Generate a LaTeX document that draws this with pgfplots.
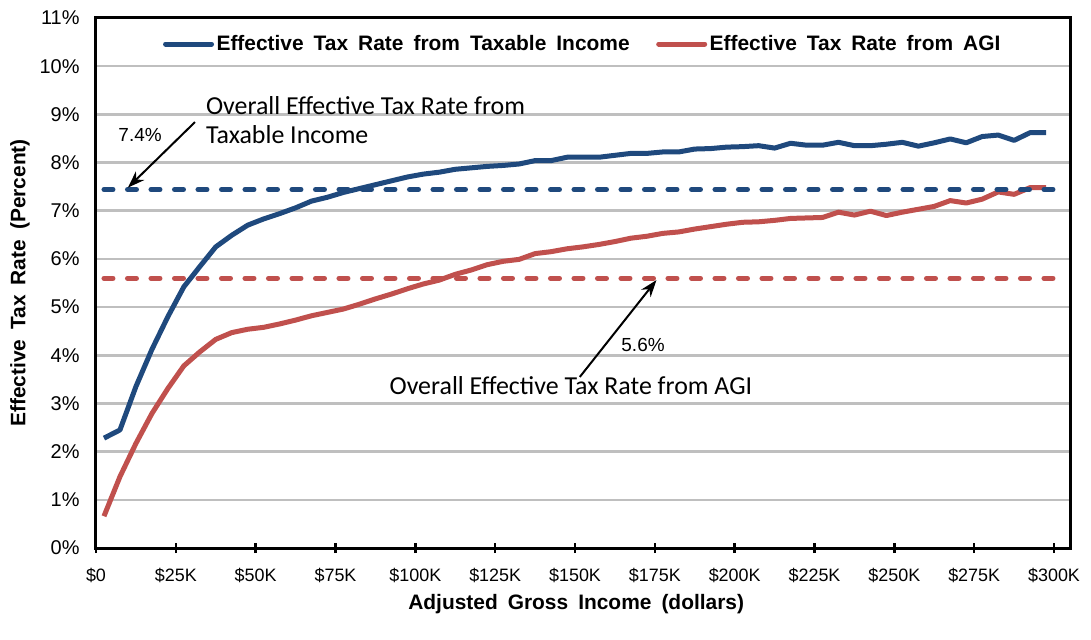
\documentclass[border=0pt]{standalone}
\usepackage{fontspec}
\setmainfont{Liberation Sans}
\newfontfamily\calibri{Carlito}
\usepackage{pgfplots}
\usepackage{pgfplotstable}
\pgfplotsset{compat=1.18}
\usetikzlibrary{arrows.meta}

\definecolor{taxblue}{RGB}{31,73,125}
\definecolor{taxred}{RGB}{192,80,77}
\definecolor{gridgray}{RGB}{191,191,191}

\newcommand\labfont{\fontsize{21}{24}\selectfont\bfseries\spaceskip=10bp\relax}
\newcommand\legfont{\fontsize{21}{24}\selectfont\bfseries\spaceskip=10bp\relax}

% income in $K (bin midpoints), effective rates in percent
\pgfplotstableread{
inc  taxable  agi
2.5    2.28  0.66
7.5    2.45  1.48
12.5   3.35  2.17
17.5   4.12  2.79
22.5   4.80  3.31
27.5   5.42  3.78
32.5   5.84  4.07
37.5   6.25  4.33
42.5   6.49  4.47
47.5   6.70  4.54
52.5   6.83  4.58
57.5   6.94  4.65
62.5   7.06  4.73
67.5   7.20  4.82
72.5   7.28  4.89
77.5   7.38  4.96
82.5   7.46  5.06
87.5   7.54  5.17
92.5   7.62  5.27
97.5   7.70  5.38
102.5  7.76  5.48
107.5  7.80  5.56
112.5  7.86  5.68
117.5  7.89  5.77
122.5  7.92  5.88
127.5  7.94  5.95
132.5  7.97  5.99
137.5  8.04  6.11
142.5  8.04  6.15
147.5  8.11  6.21
152.5  8.11  6.25
157.5  8.11  6.30
162.5  8.15  6.36
167.5  8.19  6.43
172.5  8.19  6.47
177.5  8.22  6.53
182.5  8.22  6.56
187.5  8.28  6.62
192.5  8.29  6.67
197.5  8.32  6.72
202.5  8.33  6.76
207.5  8.35  6.77
212.5  8.30  6.80
217.5  8.40  6.84
222.5  8.36  6.85
227.5  8.36  6.86
232.5  8.42  6.97
237.5  8.35  6.91
242.5  8.35  6.99
247.5  8.38  6.90
252.5  8.42  6.97
257.5  8.34  7.03
262.5  8.41  7.09
267.5  8.49  7.21
272.5  8.41  7.16
277.5  8.54  7.24
282.5  8.57  7.39
287.5  8.46  7.34
292.5  8.62  7.48
297.5  8.62  7.48
}\rates

\begin{document}
\begin{tikzpicture}
\useasboundingbox (-96bp,-92bp) rectangle (995bp,548bp);
\begin{axis}[
  at={(0,0)}, anchor=south west,
  width=974bp, height=530bp, scale only axis,
  xmin=0, xmax=305, ymin=0, ymax=11,
  axis line style={black, line width=3bp},
  ymajorgrids, major grid style={gridgray, line width=2.5bp},
  xtick={0,25,...,300},
  xticklabels={\$0,\$25K,\$50K,\$75K,\$100K,\$125K,\$150K,\$175K,\$200K,\$225K,\$250K,\$275K,\$300K},
  ytick={0,1,...,11},
  yticklabels={0\%,1\%,2\%,3\%,4\%,5\%,6\%,7\%,8\%,9\%,10\%,11\%},
  xtick pos=bottom, ytick pos=left,
  tick align=center, major tick length=10bp,
  xtick style={black, line width=2.5bp},
  ytick style={draw=none},
  xticklabel style={font=\fontsize{18}{20}\selectfont, yshift=-12bp},
  yticklabel style={font=\fontsize{20}{22}\selectfont, xshift=-8bp},
  xlabel={Adjusted Gross Income (dollars)},
  ylabel={Effective Tax Rate (Percent)},
  label style={font=\labfont},
  xlabel style={at={(axis description cs:0.493,0)}, anchor=center, yshift=-56bp},
  ylabel style={at={(axis description cs:-0.078,0.5)}, anchor=center},
  legend columns=2,
  legend style={draw=none, fill=none, at={(0.5,1)}, anchor=north, yshift=-13bp,
    font=\legfont,
    /tikz/every even column/.append style={column sep=24bp},
    nodes={inner sep=2.5bp}},
  legend image code/.code={\draw[#1, line cap=round] (0bp,0bp) -- (46bp,0bp);},
]
\addplot[taxblue, line width=5bp, line join=round] table[x=inc, y=taxable] {\rates};
\addlegendentry{Effective Tax Rate from Taxable Income}
\addplot[taxred, line width=5bp, line join=round] table[x=inc, y=agi] {\rates};
\addlegendentry{Effective Tax Rate from AGI}

\addplot[forget plot, taxblue, line width=5bp, line cap=round, dash pattern=on 9bp off 14.5bp]
  coordinates {(2.5,7.44) (300,7.44)};
\addplot[forget plot, taxred, line width=5bp, line cap=round, dash pattern=on 9bp off 14.5bp]
  coordinates {(2.5,5.6) (300,5.6)};

\draw[-{Stealth[length=17bp,width=12bp]}, line width=2bp] (axis cs:31,8.84) -- (axis cs:10,7.48);
\draw[-{Stealth[length=17bp,width=12bp]}, line width=2bp] (axis cs:151.5,3.55) -- (axis cs:175.5,5.56);

\node[font=\fontsize{19}{22}\selectfont] at (axis cs:13.8,8.57) {7.4\%};
\node[font=\fontsize{19}{22}\selectfont] at (axis cs:171.3,4.21) {5.6\%};
\node[font=\calibri\fontsize{26}{30}\selectfont, anchor=west, align=left, inner sep=0pt]
  at (axis cs:34.4,8.88) {Overall Effective Tax Rate from\\Taxable Income};
\node[font=\calibri\fontsize{26}{30}\selectfont, inner sep=0pt]
  at (axis cs:148.7,3.38) {Overall Effective Tax Rate from AGI};
\end{axis}
\end{tikzpicture}
\end{document}
